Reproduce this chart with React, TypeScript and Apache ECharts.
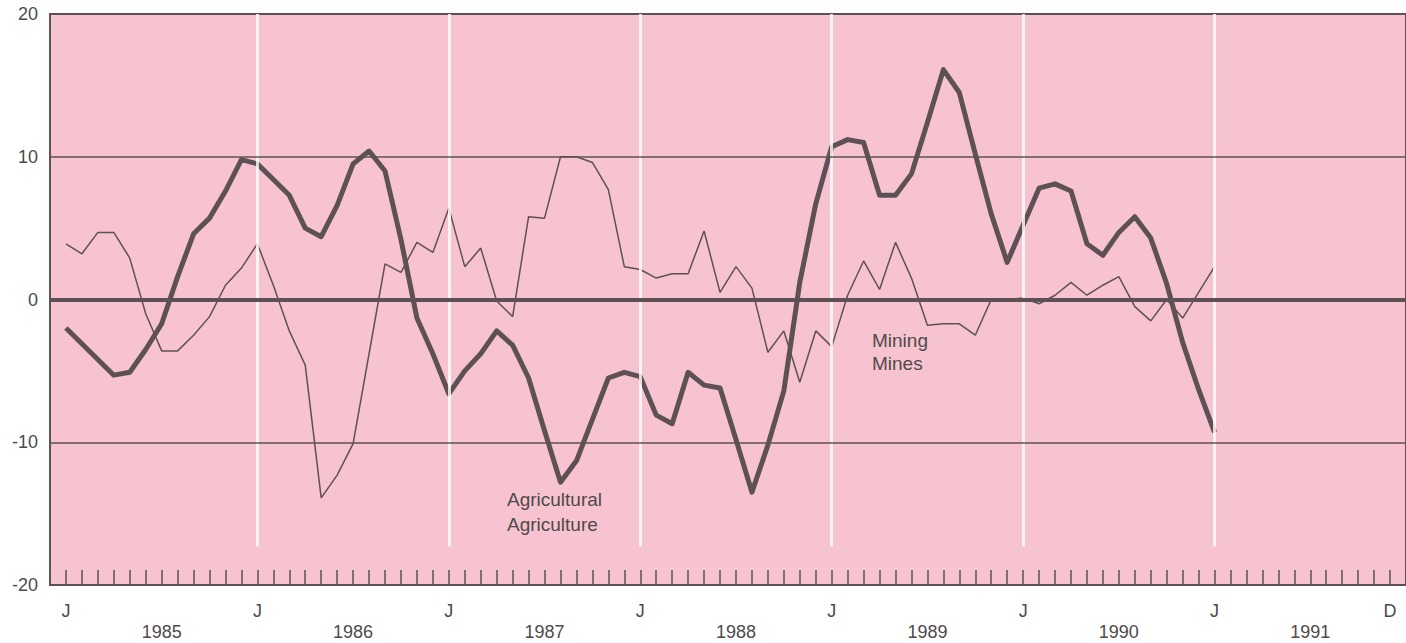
import React, { useEffect, useRef } from "react";
import * as echarts from "echarts";

// Month index 0 = January 1985, 83 = December 1991
const agricultural = [
  -2.0, -3.1, -4.2, -5.3, -5.1, -3.5, -1.7, 1.6, 4.6, 5.7, 7.6, 9.8,
  9.5, 8.4, 7.3, 5.0, 4.4, 6.6, 9.5, 10.4, 9.0, 4.2, -1.3, -3.8,
  -6.6, -5.0, -3.8, -2.2, -3.2, -5.5, -9.2, -12.8, -11.3, -8.4, -5.5, -5.1,
  -5.4, -8.1, -8.7, -5.1, -6.0, -6.2, -9.8, -13.5, -10.2, -6.4, 1.2, 6.7,
  10.7, 11.2, 11.0, 7.3, 7.3, 8.8, 12.4, 16.1, 14.5, 10.2, 6.0, 2.6,
  5.2, 7.8, 8.1, 7.6, 3.9, 3.1, 4.7, 5.8, 4.3, 1.1, -3.0, -6.3,
  -9.3,
];

const mining = [
  3.9, 3.2, 4.7, 4.7, 2.9, -1.0, -3.6, -3.6, -2.5, -1.2, 1.0, 2.2,
  3.9, 1.0, -2.2, -4.6, -13.9, -12.3, -10.1, -3.8, 2.5, 1.9, 4.0, 3.3,
  6.4, 2.3, 3.6, -0.1, -1.2, 5.8, 5.7, 10.0, 10.0, 9.6, 7.7, 2.3,
  2.1, 1.5, 1.8, 1.8, 4.8, 0.5, 2.3, 0.8, -3.7, -2.2, -5.8, -2.2,
  -3.3, 0.3, 2.7, 0.7, 4.0, 1.5, -1.8, -1.7, -1.7, -2.5, 0.0, 0.0,
  0.1, -0.3, 0.3, 1.2, 0.3, 1.0, 1.6, -0.5, -1.5, 0.0, -1.3, 0.5,
  2.3,
];

const monthTickIndex = [0, 12, 24, 36, 48, 60, 72, 83];
const monthTickLabels = ["J", "J", "J", "J", "J", "J", "J", "D"];
const years = ["1985", "1986", "1987", "1988", "1989", "1990", "1991"];
const yearCenterIndex = [6, 18, 30, 42, 54, 66, 78];
const yearStartIndex = [12, 24, 36, 48, 60, 72];
const referenceLevels = [10, -10];

const PINK = "#f8c3d0";
const DARK = "#5e5155";
const TEXT = "#4e4a4b";
const FONT = "'Liberation Sans', Arial, Helvetica, sans-serif";

export default function App() {
  const ref = useRef<HTMLDivElement>(null);

  useEffect(() => {
    if (!ref.current) return;
    const chart = echarts.init(ref.current, undefined, { renderer: "svg" });

    const option = {
      animation: false,
      backgroundColor: "#ffffff",
      grid: {
        left: 50,
        right: 0,
        top: 14,
        bottom: 58,
        show: true,
        backgroundColor: PINK,
        borderColor: DARK,
        borderWidth: 2,
        containLabel: false,
        outerBoundsMode: "none",
      },
      xAxis: [
        {
          type: "value",
          position: "bottom",
          min: -1,
          max: 84,
          interval: 1,
          axisLine: { show: false, onZero: false },
          axisTick: {
            show: true,
            inside: true,
            length: 15,
            lineStyle: { color: DARK, width: 1.5 },
          },
          splitLine: { show: false },
          axisLabel: {
            margin: 17,
            fontSize: 18,
            color: TEXT,
            fontFamily: FONT,
            formatter: (v: number) => {
              const k = monthTickIndex.indexOf(Math.round(v));
              return k >= 0 ? monthTickLabels[k] : "";
            },
          },
        },
        {
          type: "value",
          position: "bottom",
          min: -1,
          max: 84,
          interval: 1,
          axisLine: { show: false, onZero: false },
          axisTick: { show: false },
          splitLine: { show: false },
          axisLabel: {
            margin: 38,
            fontSize: 18,
            color: TEXT,
            fontFamily: FONT,
            formatter: (v: number) => {
              const k = yearCenterIndex.indexOf(Math.round(v));
              return k >= 0 ? years[k] : "";
            },
          },
        },
      ],
      yAxis: {
        type: "value",
        min: -20,
        max: 20,
        interval: 10,
        axisLine: { show: false, onZero: false },
        axisTick: { show: false },
        splitLine: { show: false },
        axisLabel: {
          margin: 12,
          fontSize: 18,
          color: TEXT,
          fontFamily: FONT,
        },
      },
      graphic: [
        {
          type: "text",
          left: 507,
          top: 487,
          style: {
            text: "Agricultural\nAgriculture",
            fontSize: 19,
            lineHeight: 25,
            fill: TEXT,
            fontFamily: FONT,
          },
          z: 10,
        },
        {
          type: "text",
          left: 872,
          top: 329,
          style: {
            text: "Mining\nMines",
            fontSize: 19,
            lineHeight: 23,
            fill: TEXT,
            fontFamily: FONT,
          },
          z: 10,
        },
      ],
      series: [
        {
          name: "yearLines",
          type: "line",
          data: [],
          z: 1,
          silent: true,
          markLine: {
            silent: true,
            symbol: ["none", "none"],
            label: { show: false },
            lineStyle: { color: "#ffffff", width: 3, type: "solid", opacity: 0.8 },
            data: yearStartIndex.map((i) => [
              { coord: [i, 20] },
              { coord: [i, -17.3] },
            ]),
          },
        },
        {
          name: "levels",
          type: "line",
          data: [],
          z: 2,
          silent: true,
          markLine: {
            silent: true,
            symbol: ["none", "none"],
            label: { show: false },
            lineStyle: { color: DARK, width: 1.5, type: "solid" },
            data: [
              ...referenceLevels.map((v) => ({ yAxis: v })),
              { yAxis: 0, lineStyle: { color: DARK, width: 4, type: "solid" } },
            ],
          },
        },
        {
          name: "Mining",
          type: "line",
          z: 3,
          showSymbol: false,
          symbol: "none",
          data: mining.map((v, i) => [i, v]),
          lineStyle: { color: DARK, width: 1.5 },
        },
        {
          name: "Agricultural",
          type: "line",
          z: 4,
          showSymbol: false,
          symbol: "none",
          data: agricultural.map((v, i) => [i, v]),
          lineStyle: { color: DARK, width: 5, join: "round" },
        },
      ],
    };

    chart.setOption(option as any);
    return () => chart.dispose();
  }, []);

  return (
    <div
      ref={ref}
      style={{
        position: "fixed",
        left: 0,
        top: 0,
        width: 1406,
        height: 643,
        background: "#ffffff",
      }}
    />
  );
}
